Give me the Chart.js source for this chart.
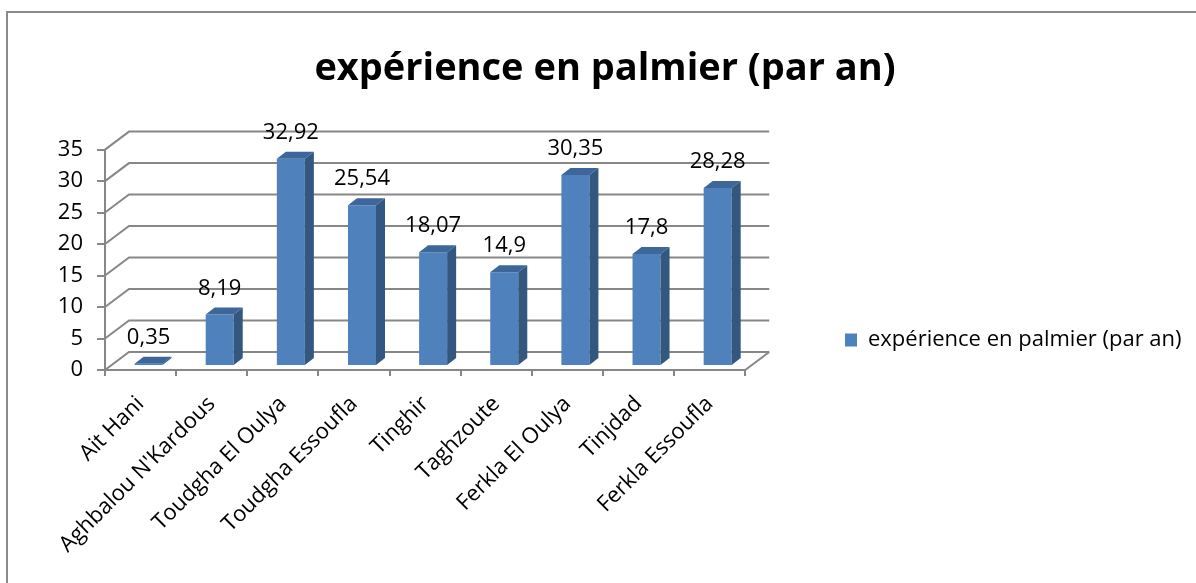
<!DOCTYPE html>
<html>
<head>
<meta charset="utf-8">
<title>expérience en palmier (par an)</title>
<script src="https://cdn.jsdelivr.net/npm/chart.js@4.4.1/dist/chart.umd.min.js"></script>
<style>
  html, body { margin: 0; padding: 0; background: #ffffff; }
  #wrap { width: 1196px; height: 583px; position: relative; }
</style>
</head>
<body>
<div id="wrap"><canvas id="chart" width="1196" height="583"></canvas></div>
<script>
// ---- data ----
const categories = [
  "Ait Hani", "Aghbalou N'Kardous", "Toudgha El Oulya", "Toudgha Essoufla",
  "Tinghir", "Taghzoute", "Ferkla El Oulya", "Tinjdad", "Ferkla Essoufla"
];
const experienceValues = [0.35, 8.19, 32.92, 25.54, 18.07, 14.9, 30.35, 17.8, 28.28];
const seriesLabel = "expérience en palmier (par an)";
const chartTitle = "expérience en palmier (par an)";
const yTickValues = [0, 5, 10, 15, 20, 25, 30, 35];

// ---- styling ----
const FONT = "'Open Sans', 'DejaVu Sans', sans-serif";
const GRID_COLOR = '#878787';
const FRONT_COLOR = '#4F81BD';
const TOP_COLOR = '#3D679B';
const SIDE_COLOR = '#34577F';
const WALL_DEPTH = { dx: 24, dy: -18 };   // back wall offset of the 3D box
const BAR_DEPTH = { dx: 9, dy: -7 };      // depth of each column
const BAR_SHIFT = { dx: 8, dy: -4 };      // columns sit a little inside the box

const fmt = v => String(v).replace('.', ',');

// white background and the outer frame
const framePlugin = {
  id: 'frame',
  beforeDraw(chart) {
    const ctx = chart.ctx;
    ctx.save();
    ctx.fillStyle = '#ffffff';
    ctx.fillRect(0, 0, chart.width, chart.height);
    ctx.strokeStyle = '#8a8a8a';
    ctx.lineWidth = 2;
    ctx.beginPath();
    ctx.moveTo(7, chart.height + 2);
    ctx.lineTo(7, 12);
    ctx.lineTo(chart.width + 2, 12);
    ctx.stroke();
    ctx.restore();
  }
};

// side wall, back wall gridlines and floor of the 3D box
const wallsPlugin = {
  id: 'walls',
  beforeDatasetsDraw(chart) {
    const { ctx, chartArea: a, scales: { y } } = chart;
    ctx.save();
    ctx.strokeStyle = GRID_COLOR;
    ctx.lineWidth = 2;
    ctx.beginPath();
    y.ticks.forEach(t => {
      const py = y.getPixelForValue(t.value);
      ctx.moveTo(a.left, py);
      ctx.lineTo(a.left + WALL_DEPTH.dx, py + WALL_DEPTH.dy);
      ctx.lineTo(a.right + WALL_DEPTH.dx, py + WALL_DEPTH.dy);
    });
    const p0 = y.getPixelForValue(0);
    ctx.moveTo(a.right, p0);
    ctx.lineTo(a.right + WALL_DEPTH.dx, p0 + WALL_DEPTH.dy);
    ctx.stroke();
    ctx.restore();
  }
};

// extrudes the columns drawn by the bar controller and writes their values
const columns3dPlugin = {
  id: 'columns3d',
  beforeDatasetDraw(chart) {
    chart.ctx.save();
    chart.ctx.translate(BAR_SHIFT.dx, BAR_SHIFT.dy);
  },
  afterDatasetDraw(chart, args) {
    const ctx = chart.ctx;
    const meta = args.meta;
    meta.data.forEach(el => {
      const { x, y, base, width } = el.getProps(['x', 'y', 'base', 'width'], true);
      const l = x - width / 2, r = x + width / 2;
      ctx.fillStyle = TOP_COLOR;
      ctx.beginPath();
      ctx.moveTo(l, y);
      ctx.lineTo(l + BAR_DEPTH.dx, y + BAR_DEPTH.dy);
      ctx.lineTo(r + BAR_DEPTH.dx, y + BAR_DEPTH.dy);
      ctx.lineTo(r, y);
      ctx.closePath();
      ctx.fill();
      ctx.fillStyle = SIDE_COLOR;
      ctx.beginPath();
      ctx.moveTo(r, y);
      ctx.lineTo(r + BAR_DEPTH.dx, y + BAR_DEPTH.dy);
      ctx.lineTo(r + BAR_DEPTH.dx, base + BAR_DEPTH.dy);
      ctx.lineTo(r, base);
      ctx.closePath();
      ctx.fill();
    });
    ctx.restore();

    const values = chart.data.datasets[args.index].data;
    ctx.save();
    ctx.fillStyle = '#000000';
    ctx.font = `22px ${FONT}`;
    ctx.textAlign = 'center';
    ctx.textBaseline = 'middle';
    meta.data.forEach((el, i) => {
      const { x, y } = el.getProps(['x', 'y'], true);
      ctx.fillText(fmt(values[i]), x + BAR_SHIFT.dx, y + BAR_SHIFT.dy - 26);
    });
    ctx.restore();
  }
};

// title centred over the whole frame, legend beside the floor of the box
const placeBoxesPlugin = {
  id: 'placeBoxes',
  afterLayout(chart) {
    const t = chart.titleBlock;
    if (t) {
      const dx = 605 - (t.left + t.right) / 2;
      t.left += dx; t.right += dx;
    }
    const lg = chart.legend;
    if (lg) {
      const h = lg.bottom - lg.top;
      lg.left = 835; lg.right = chart.width; lg.width = lg.right - lg.left;
      lg.top = 319; lg.bottom = 319 + h;
    }
  }
};

new Chart(document.getElementById('chart'), {
  type: 'bar',
  data: {
    labels: categories,
    datasets: [{
      label: seriesLabel,
      data: experienceValues,
      backgroundColor: FRONT_COLOR,
      borderWidth: 0,
      barPercentage: 0.394,
      categoryPercentage: 1,
      clip: false
    }]
  },
  options: {
    responsive: false,
    animation: false,
    devicePixelRatio: 1,
    layout: { padding: { top: 12, left: 14, right: 207, bottom: 0 } },
    plugins: {
      title: {
        display: true,
        text: chartTitle,
        color: '#000000',
        font: { family: FONT, size: 38, weight: 'bold', lineHeight: 1.2 },
        padding: { top: 34, bottom: 58 }
      },
      legend: {
        display: true,
        position: 'right',
        align: 'start',
        labels: {
          color: '#000000',
          font: { family: FONT, size: 22 },
          boxWidth: 12,
          boxHeight: 13,
          padding: 10
        }
      },
      tooltip: { enabled: false }
    },
    scales: {
      x: {
        grid: { display: true, drawOnChartArea: false, drawTicks: true, tickLength: 6, color: GRID_COLOR, lineWidth: 2, offset: true },
        border: { display: true, color: GRID_COLOR, width: 2 },
        ticks: {
          color: '#000000',
          font: { family: FONT, size: 22 },
          minRotation: 45, maxRotation: 45,
          autoSkip: false,
          padding: 15
        },
        afterFit(scale) { scale.height = 583 - 370; }
      },
      y: {
        min: yTickValues[0],
        max: yTickValues[yTickValues.length - 1],
        grid: { display: true, drawOnChartArea: false, drawTicks: true, tickLength: 8, color: GRID_COLOR, lineWidth: 2 },
        border: { display: true, color: GRID_COLOR, width: 2 },
        ticks: {
          stepSize: yTickValues[1] - yTickValues[0],
          color: '#000000',
          font: { family: FONT, size: 22 },
          padding: 14
        },
        afterFit(scale) { scale.width = 105 - 14; }
      }
    }
  },
  plugins: [framePlugin, wallsPlugin, columns3dPlugin, placeBoxesPlugin]
});
</script>
</body>
</html>
